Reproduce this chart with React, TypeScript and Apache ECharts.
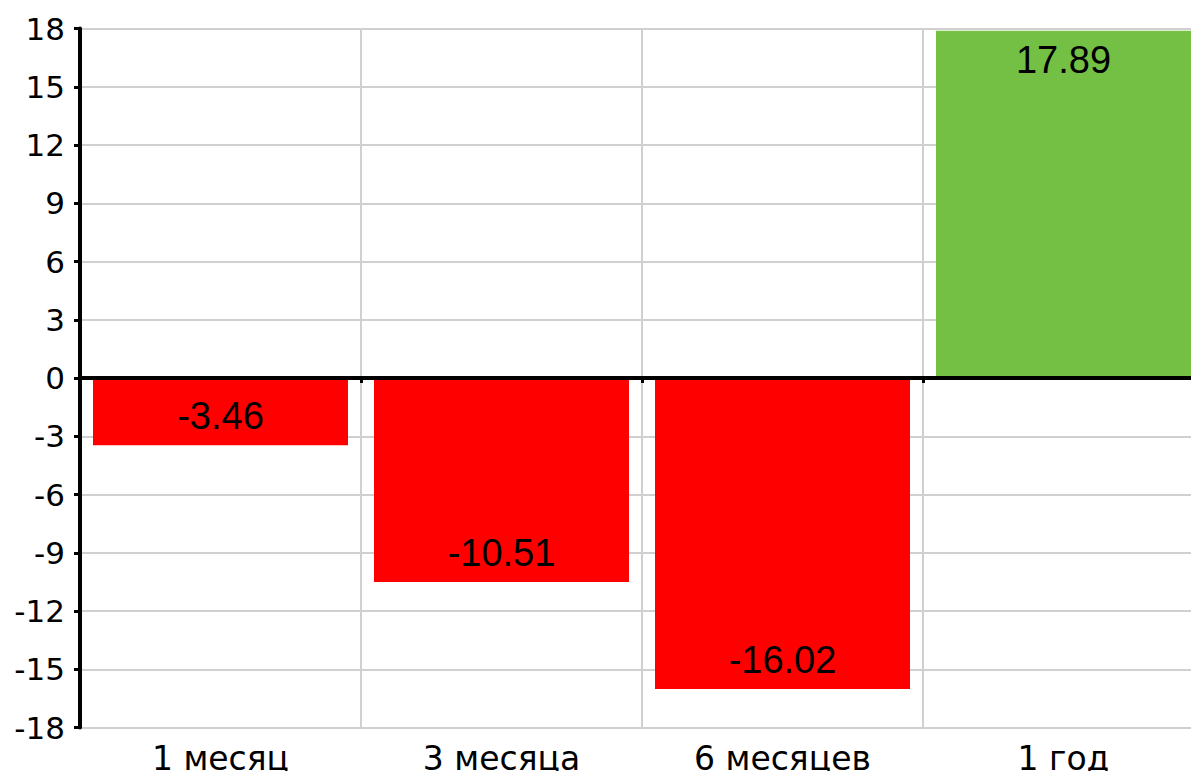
import React, { useEffect, useRef } from "react";
import * as echarts from "echarts";

const categories = ["1 месяц", "3 месяца", "6 месяцев", "1 год"];
const values = [-3.46, -10.51, -16.02, 17.89];
const yMin = -18;
const yMax = 18;
const yStep = 3;

const POS_COLOR = "#73c045";
const NEG_COLOR = "#ff0000";
const GRID_COLOR = "#d0d0d0";

export default function App() {
  const ref = useRef<HTMLDivElement>(null);
  useEffect(() => {
    const chart = echarts.init(ref.current!, null, { renderer: "svg" });
    chart.setOption({
      animation: false,
      grid: {
        left: 80,
        top: 28.5,
        width: 1124,
        height: 699,
        containLabel: false,
        outerBoundsMode: "none",
      },
      xAxis: [
        {
          type: "category",
          data: categories,
          position: "bottom",
          axisLine: { show: false, onZero: false },
          axisTick: { show: false },
          axisLabel: {
            fontFamily: "DejaVu Sans",
            fontSize: 33,
            color: "#000",
            margin: 14,
          },
          splitLine: { show: true, lineStyle: { color: GRID_COLOR, width: 2 } },
        },
        {
          type: "category",
          data: categories,
          position: "bottom",
          z: 5,
          axisLine: { show: true, onZero: true, lineStyle: { color: "#000", width: 4 } },
          axisTick: { show: true, length: 5, lineStyle: { color: "#000", width: 3 } },
          axisLabel: { show: false },
          splitLine: { show: false },
        },
      ],
      yAxis: {
        type: "value",
        min: yMin,
        max: yMax,
        interval: yStep,
        axisLine: { show: true, lineStyle: { color: "#000", width: 4 } },
        axisTick: { show: true, length: 6, lineStyle: { color: "#000", width: 3 } },
        axisLabel: { fontFamily: "DejaVu Sans", fontSize: 31, color: "#000", margin: 15 },
        splitLine: { show: true, lineStyle: { color: GRID_COLOR, width: 2 } },
      },
      series: [
        {
          type: "bar",
          xAxisIndex: 0,
          barCategoryGap: "9.25%",
          data: values.map((v) => ({
            value: v,
            itemStyle: { color: v >= 0 ? POS_COLOR : NEG_COLOR },
            label: { position: v >= 0 ? "insideTop" : "insideBottom" },
          })),
          label: {
            show: true,
            fontFamily: "Liberation Sans",
            fontSize: 38,
            color: "#000",
            distance: 10,
          },
        },
      ],
    });
    return () => chart.dispose();
  }, []);
  return (
    <div
      style={{
        position: "fixed",
        left: 0,
        top: 0,
        width: 1191,
        height: 771,
        overflow: "hidden",
        background: "#fff",
      }}
    >
      <div ref={ref} style={{ width: 1230, height: 771 }} />
    </div>
  );
}
